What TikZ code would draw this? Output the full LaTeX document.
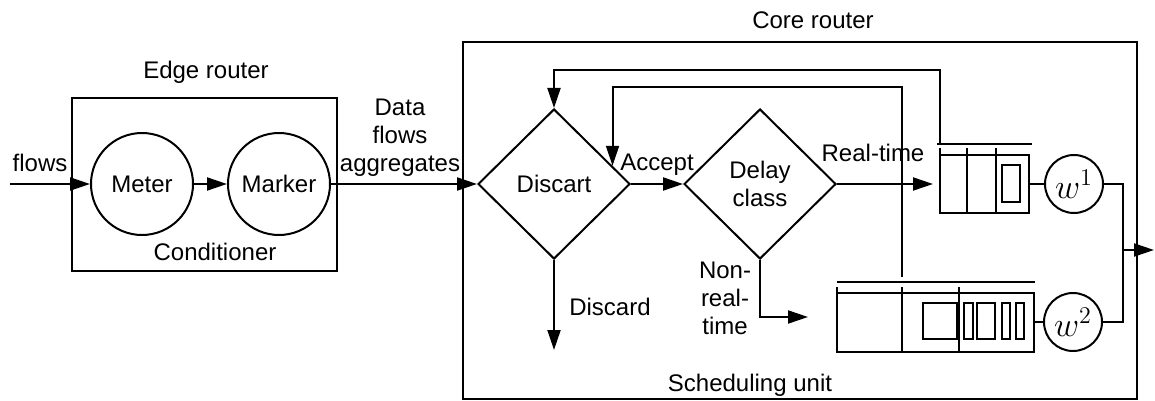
\documentclass[tikz,border=0pt]{standalone}
\usepackage{fontspec}
\setmainfont{Liberation Sans}
\usetikzlibrary{arrows.meta,calc,positioning,shapes.geometric}
\tikzset{
  line/.style={line width=1pt},
  flow/.style={line width=1pt,-{Triangle[length=10pt,width=6.5pt]}},
  box/.style={draw,line width=1pt},
  unit/.style={circle,draw,line width=1pt,minimum size=51pt,inner sep=0pt},
  wnode/.style={circle,draw,line width=1pt,minimum size=29pt,inner sep=0pt,font=\fontsize{17}{19}\selectfont},
  decide/.style={diamond,draw,line width=1pt,minimum width=76pt,minimum height=75pt,inner sep=0pt,align=center},
  lbl/.style={font=\fontsize{12}{14}\selectfont,align=center},
}
\begin{document}
\begin{tikzpicture}[x=0.5pt,y=-0.5pt]
  \useasboundingbox (0,0) rectangle (1155,401);
  % --- edge router: meter and marker ---
  \draw[box] (72,98) rectangle (337,271);
  \node[lbl] at (206,72) {Edge router};
  \node[lbl] at (215,252) {Conditioner};
  \node[unit,lbl] (meter) at (142,184) {Meter};
  \node[unit,lbl] (marker) at (279,184) {Marker};
  \coordinate (in) at (10,184);
  \draw[flow] (in) -- (meter);
  \node[lbl] at (40,163) {flows};
  \draw[flow] (meter) -- (marker);
  % --- core router: discard and delay class ---
  \draw[box] (463,42) rectangle (1137,399);
  \node[lbl] at (813,20) {Core router};
  \node[lbl] at (750,385) {Scheduling unit};
  \node[decide,lbl] (disc) at (554,184) {Discart};
  \node[decide,lbl] (delay) at (760,184) {Delay\\ class};
  \draw[flow] (marker) -- (disc.west);
  \node[lbl] at (400,138) {Data\\ flows\\ aggregates};
  \draw[flow] (disc.east) -- (delay.west);
  \node[lbl] at (657,165) {Accept};
  \coordinate (drop) at (554,350);
  \draw[flow] (disc.south) -- (drop);
  \node[lbl] at (610,307) {Discard};
  % --- queue 1: real-time ---
  \draw[line] (937,144) -- (1032,144);
  \draw[line] (940,155) rectangle (1029,213);
  \foreach \x in {940,967,996} \draw[line] (\x,148) -- (\x,213);
  \draw[line] (1002,165) rectangle (1020,202);
  \coordinate (q1in) at (933,184);
  \coordinate (q1out) at (1029,184);
  \node[wnode] (w1) at (1074,184) {$w^1$};
  \draw[line] (q1out) -- (w1);
  \draw[flow] (delay.east) -- (q1in);
  \node[lbl] at (873,153) {Real-time};
  % --- queue 2: non-real-time ---
  \draw[line] (837,282) -- (1035,282);
  \draw[line] (837,293) rectangle (1034,352);
  \foreach \x in {837,902,959} \draw[line] (\x,287) -- (\x,352);
  \draw[line] (923,303) rectangle (957,339);
  \foreach \a/\b in {964/973,977/995,1002/1010,1016/1024}
    \draw[line] (\a,303) rectangle (\b,339);
  \coordinate (q2in) at (808,317);
  \coordinate (q2out) at (1034,322);
  \node[wnode] (w2) at (1073,322) {$w^2$};
  \draw[line] (q2out) -- (w2);
  \draw[flow] (delay.south) |- (q2in);
  \node[lbl] at (725,298) {Non-\\ real-\\ time};
  % --- feedback to discard ---
  \coordinate (fb1) at (940,144);
  \draw[flow] (fb1) -- (940,70) -| (disc.north);
  \coordinate (fb2) at (902,277);
  \draw[flow] (fb2) -- (902,87) -| ($(disc.north)!0.76!(disc.east)$);
  % --- output ---
  \coordinate (join) at (1123,250);
  \coordinate (out) at (1154,250);
  \draw[line] (w1) -| (join) |- (w2);
  \draw[flow] (join) -- (out);
\end{tikzpicture}
\end{document}
